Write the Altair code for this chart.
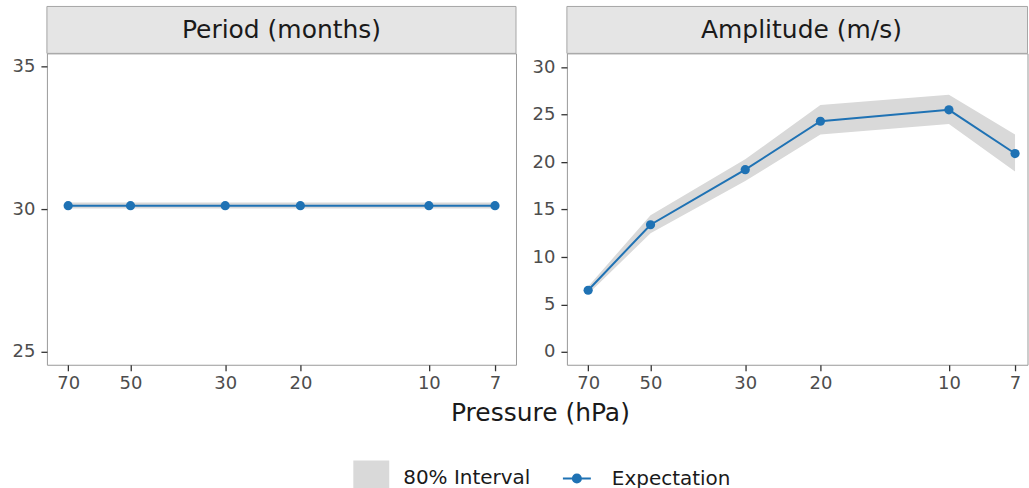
import altair as alt
import pandas as pd

FONT = "DejaVu Sans"
BLUE = "#1f72b4"
BAND = "#d9d9d9"

# Pressure levels (hPa)
pressure = [70, 50, 30, 20, 10, 7]

# Period (months): expectation and 80% interval
period_mean = [30.13, 30.13, 30.13, 30.13, 30.13, 30.13]
period_lo = [30.03, 30.03, 30.03, 30.03, 30.03, 30.03]
period_hi = [30.24, 30.24, 30.24, 30.24, 30.24, 30.24]

# Amplitude (m/s): expectation and 80% interval
amp_mean = [6.5, 13.4, 19.2, 24.3, 25.5, 20.9]
amp_lo = [6.1, 12.5, 18.0, 22.9, 24.0, 19.0]
amp_hi = [6.9, 14.4, 20.3, 26.0, 27.1, 22.9]

x_ticks = [70, 50, 30, 20, 10, 7]
period_ticks = [25, 30, 35]
amp_ticks = [0, 5, 10, 15, 20, 25, 30]

PH, HH = 312, 47
frame = alt.ViewBackground(fill="white", stroke="#999999", strokeWidth=1)

# legend glyphs: a grey swatch, and a line with a dot
swatch_symbol = "M-1,-0.944H1V0.611H-1Z"
line_symbol = ("M-1,0L1,0M-0.29,0A0.29,0.29,0,1,0,0.29,0"
               "A0.29,0.29,0,1,0,-0.29,0Z")


def frame_data(mean, lo, hi):
    return pd.DataFrame({
        "pressure": pressure, "mean": mean, "lo": lo, "hi": hi,
        "band": ["80% Interval"] * len(pressure),
        "series": ["Expectation"] * len(pressure),
    })


def strip(title, width):
    # grey facet strip sitting on top of the panel
    src = alt.Chart(pd.DataFrame({"t": [title]}))
    box = src.mark_rect(fill="#e5e5e5", stroke="#a6a6a6", strokeWidth=1, clip=False).encode(
        x=alt.value(0), x2=alt.value(width), y=alt.value(-HH), y2=alt.value(0)
    )
    label = src.mark_text(
        font=FONT, fontSize=25, color="#1a1a1a", baseline="middle", align="center", clip=False
    ).encode(text="t:N", x=alt.value(235), y=alt.value(-HH / 2 + 0.5))
    return [box, label]


def panel(df, title, width, xdomain, ydomain, yticks, show_title):
    xscale = alt.Scale(type="log", domain=xdomain, reverse=True, nice=False)
    xaxis = alt.Axis(
        values=x_ticks, format="d",
        title="Pressure (hPa)" if show_title else None,
        titleX=494, titleY=56, titleAlign="center", titleBaseline="alphabetic",
        titleFont=FONT, titleFontSize=25, titleFontWeight="normal", titleColor="#1a1a1a",
    )
    yscale = alt.Scale(domain=ydomain, nice=False, zero=False)
    yaxis = alt.Axis(values=yticks, title=None, labelPadding=6)
    base = alt.Chart(df)
    area = base.mark_area(opacity=1).encode(
        x=alt.X("pressure:Q", scale=xscale, axis=xaxis),
        y=alt.Y("lo:Q", scale=yscale, axis=yaxis),
        y2="hi:Q",
        fill=alt.Fill("band:N", scale=alt.Scale(domain=["80% Interval"], range=[BAND]),
                      legend=alt.Legend(
                          title=None, orient="none", legendX=307, legendY=407,
                          symbolType=swatch_symbol, symbolSize=1296, symbolStrokeWidth=0,
                          labelOffset=14, padding=0, labelFont=FONT, labelFontSize=20,
                          labelColor="#1a1a1a")),
    )
    line = base.mark_line(strokeWidth=2).encode(
        x="pressure:Q", y="mean:Q",
        stroke=alt.Stroke("series:N", scale=alt.Scale(domain=["Expectation"], range=[BLUE]),
                          legend=alt.Legend(
                              title=None, orient="none", legendX=516, legendY=411,
                              symbolType=line_symbol, symbolSize=784, symbolStrokeWidth=2,
                              symbolFillColor=BLUE, labelOffset=20, padding=0,
                              labelFont=FONT, labelFontSize=20, labelColor="#1a1a1a")),
    )
    pts = base.mark_circle(size=85, opacity=1, color=BLUE).encode(x="pressure:Q", y="mean:Q")
    return alt.layer(area, line, pts, *strip(title, width)).properties(
        width=width, height=PH, view=frame)


left = panel(frame_data(period_mean, period_lo, period_hi), "Period (months)", 470,
             [6.25, 78.5], [24.55, 35.47], period_ticks, True)
# the right panel runs to the page edge, so its frame is a little narrower
right = panel(frame_data(amp_mean, amp_lo, amp_hi), "Amplitude (m/s)", 461.5,
              [6.545, 78.5], [-1.35, 31.45], amp_ticks, False)

chart = alt.hconcat(left, right, spacing=51, bounds="flush").properties(
    padding={"left": 11, "top": 5, "right": 0, "bottom": 0}
).configure_axis(
    labelFont=FONT, labelFontSize=18, labelColor="#4d4d4d",
    tickColor="#333333", tickSize=6, tickWidth=1.3,
    domain=False, grid=False, labelPadding=4,
)

chart.save("out.html", embed_options={"renderer": "svg", "actions": False})
